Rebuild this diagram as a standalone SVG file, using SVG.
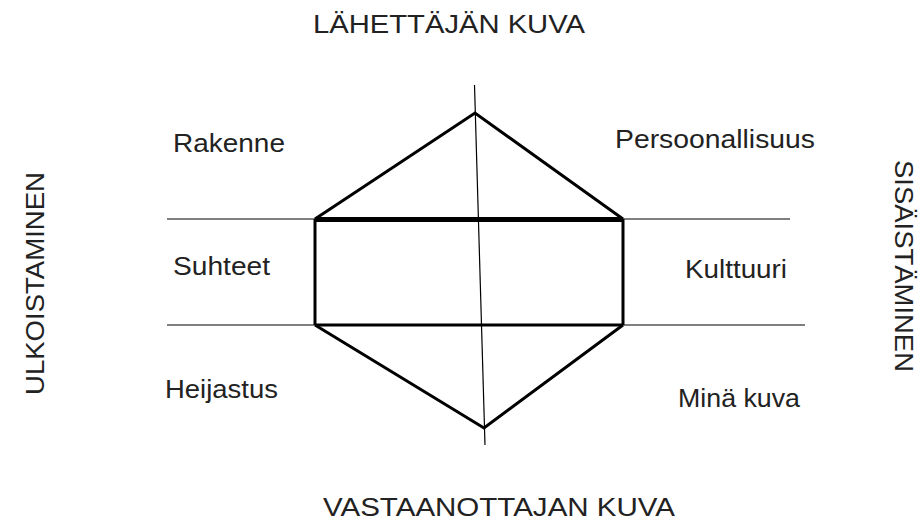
<svg xmlns="http://www.w3.org/2000/svg" width="924" height="521" viewBox="0 0 924 521">
<style>
text{font-family:"Liberation Sans",Arial,sans-serif;font-size:25px;fill:#222;}
.thin{stroke:#000;stroke-width:1.2;fill:none;}
.med{stroke:#000;stroke-width:3;fill:none;stroke-linejoin:miter;}
.thick{stroke:#000;stroke-width:5;fill:none;}
</style>
<rect width="924" height="521" fill="#fff"/>
<g id="connectors">
<line class="thin" x1="167" y1="219" x2="790" y2="219"/>
<line class="thin" x1="167" y1="325" x2="805" y2="325"/>
<line class="thin" x1="474.5" y1="85" x2="485" y2="445"/>
<polyline class="med" points="315,219 475,113 623,219"/>
<polyline class="med" points="315,325 484,428 623,325"/>
<line class="med" x1="315" y1="219" x2="315" y2="325"/>
<line class="med" x1="623" y1="219" x2="623" y2="325"/>
<line class="med" x1="315" y1="325" x2="623" y2="325"/>
<line class="thick" x1="315" y1="219.5" x2="623" y2="219.5"/>
</g>
<g id="top"><text x="313" y="33" textLength="272" lengthAdjust="spacingAndGlyphs">LÄHETTÄJÄN KUVA</text></g>
<g id="bottom"><text x="323" y="516" textLength="352" lengthAdjust="spacingAndGlyphs">VASTAANOTTAJAN KUVA</text></g>
<g id="left"><text transform="translate(44,395) rotate(-90)" textLength="223" lengthAdjust="spacingAndGlyphs">ULKOISTAMINEN</text></g>
<g id="right"><text transform="translate(895,160) rotate(90)" textLength="212" lengthAdjust="spacingAndGlyphs">SISÄISTÄMINEN</text></g>
<g id="rakenne"><text x="173" y="152" textLength="112" lengthAdjust="spacingAndGlyphs">Rakenne</text></g>
<g id="persoonallisuus"><text x="615" y="148" textLength="200" lengthAdjust="spacingAndGlyphs">Persoonallisuus</text></g>
<g id="suhteet"><text x="173" y="275" textLength="97" lengthAdjust="spacingAndGlyphs">Suhteet</text></g>
<g id="kulttuuri"><text x="685" y="278" textLength="102" lengthAdjust="spacingAndGlyphs">Kulttuuri</text></g>
<g id="heijastus"><text x="165" y="398" textLength="113" lengthAdjust="spacingAndGlyphs">Heijastus</text></g>
<g id="minakuva"><text x="678" y="407" textLength="122" lengthAdjust="spacingAndGlyphs">Minä kuva</text></g>
</svg>
